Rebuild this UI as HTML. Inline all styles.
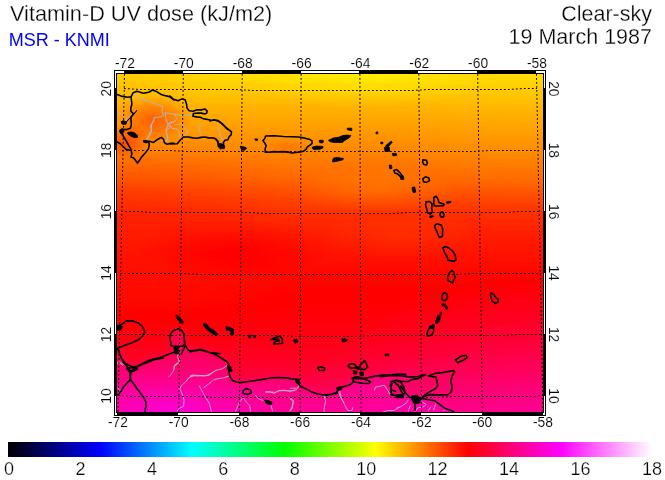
<!DOCTYPE html>
<html><head><meta charset="utf-8"><title>Vitamin-D UV dose</title>
<style>html,body{margin:0;padding:0;background:#fff;}body{width:665px;height:480px;overflow:hidden;font-family:"Liberation Sans",sans-serif;}svg{display:block;}</style>
</head><body>
<svg width="665" height="480" viewBox="0 0 665 480">
<rect width="665" height="480" fill="#fff"/>
<defs>
<linearGradient id="bg" x1="0" y1="74" x2="0" y2="412" gradientUnits="userSpaceOnUse">
<stop offset="0.0000" stop-color="#111111"/>
<stop offset="0.0237" stop-color="#161616"/>
<stop offset="0.0473" stop-color="#1b1b1b"/>
<stop offset="0.1065" stop-color="#282828"/>
<stop offset="0.1657" stop-color="#323232"/>
<stop offset="0.2249" stop-color="#3c3c3c"/>
<stop offset="0.3136" stop-color="#4c4c4c"/>
<stop offset="0.3728" stop-color="#5d5d5d"/>
<stop offset="0.4112" stop-color="#676767"/>
<stop offset="0.4615" stop-color="#6f6f6f"/>
<stop offset="0.5178" stop-color="#757575"/>
<stop offset="0.5947" stop-color="#7c7c7c"/>
<stop offset="0.6538" stop-color="#808080"/>
<stop offset="0.7308" stop-color="#858585"/>
<stop offset="0.7870" stop-color="#8a8a8a"/>
<stop offset="0.8373" stop-color="#919191"/>
<stop offset="0.8905" stop-color="#9c9c9c"/>
<stop offset="0.9408" stop-color="#aaaaaa"/>
<stop offset="1.0000" stop-color="#b5b5b5"/>
</linearGradient>
<radialGradient id="rw"><stop offset="0" stop-color="#fff" stop-opacity="1"/><stop offset="0.5" stop-color="#fff" stop-opacity="0.55"/><stop offset="1" stop-color="#fff" stop-opacity="0"/></radialGradient>
<radialGradient id="rk"><stop offset="0" stop-color="#000" stop-opacity="1"/><stop offset="0.5" stop-color="#000" stop-opacity="0.55"/><stop offset="1" stop-color="#000" stop-opacity="0"/></radialGradient>
<filter id="blur" x="-0.1" y="-0.3" width="1.2" height="1.6"><feGaussianBlur stdDeviation="3.5"/></filter>
<filter id="cmap" color-interpolation-filters="sRGB" x="0" y="0" width="1" height="1" filterUnits="objectBoundingBox">
<feComponentTransfer><feFuncR type="table" tableValues="1 1 1"/><feFuncG type="table" tableValues="1 0 0"/><feFuncB type="table" tableValues="0 0 1"/></feComponentTransfer>
</filter>
<linearGradient id="cb" x1="8" y1="0" x2="652" y2="0" gradientUnits="userSpaceOnUse">
<stop offset="0" stop-color="#000000"/>
<stop offset="0.142857" stop-color="#0000ff"/>
<stop offset="0.285714" stop-color="#00ffff"/>
<stop offset="0.428571" stop-color="#00ff00"/>
<stop offset="0.571429" stop-color="#ffff00"/>
<stop offset="0.714286" stop-color="#ff0000"/>
<stop offset="0.857143" stop-color="#ff00ff"/>
<stop offset="1" stop-color="#ffffff"/>
</linearGradient>
<clipPath id="mapclip"><rect x="117" y="74" width="426" height="338"/></clipPath>
</defs>
<g filter="url(#cmap)"><g clip-path="url(#mapclip)">
<rect x="117" y="74" width="427" height="338" fill="url(#bg)"/>
<ellipse cx="117" cy="76" rx="110" ry="40" fill="url(#rw)" opacity="0.030"/>
<ellipse cx="153" cy="119" rx="40" ry="24" fill="url(#rw)" opacity="0.170"/>
<ellipse cx="126" cy="141" rx="24" ry="17" fill="url(#rw)" opacity="0.170"/>
<ellipse cx="172" cy="420" rx="120" ry="55" fill="url(#rw)" opacity="0.450"/>
<ellipse cx="170" cy="412" rx="50" ry="26" fill="url(#rw)" opacity="0.350"/>
<ellipse cx="288" cy="147" rx="24" ry="8" fill="url(#rw)" opacity="0.050"/>
<ellipse cx="365" cy="72" rx="130" ry="36" fill="url(#rk)" opacity="0.500"/>
<ellipse cx="378" cy="190" rx="85" ry="24" fill="url(#rk)" opacity="0.140"/>
<ellipse cx="235" cy="248" rx="100" ry="32" fill="url(#rw)" opacity="0.080"/>
<ellipse cx="117" cy="190" rx="200" ry="50" fill="url(#rw)" opacity="0.070"/>
<ellipse cx="400" cy="236" rx="85" ry="24" fill="url(#rk)" opacity="0.070"/>
<ellipse cx="560" cy="420" rx="260" ry="150" fill="url(#rw)" opacity="0.300"/>
<ellipse cx="150" cy="300" rx="170" ry="50" fill="url(#rk)" opacity="0.050"/>
<ellipse cx="544" cy="120" rx="150" ry="90" fill="url(#rk)" opacity="0.080"/>
<polygon points="100,345 117,346 119.4,353 121.3,358 125,363 128.5,365 133.3,367 138,366 144,363 150,359.7 156,358.5 162,356.7 168,354.3 173,352.5 176,350 172,346 170,341 171,335.6 173,331 178,329 182,331 184,336 184.5,343 186.6,347.6 188.4,350.3 195.7,350.3 200.3,349.4 205,351 211.8,353 217.8,356 222.6,359 227.5,362 229.3,366.3 228.7,371 230,376.5 232.3,380.2 236,382 240.8,382.6 246.8,381.7 254,380.8 261.3,379.5 266,378.7 272,377.7 279.3,377.5 286.6,378 291.4,378.7 295.6,379.3 297.5,383 301,386.5 306,389 311,391.4 317,393.8 324,395 331,394.4 337,392.5 338,388.3 344,386.5 350,384.7 353.8,381.6 352,378 356,376.8 362,377.7 367,378 372,376.8 378,375.6 384,375 391,374.8 398.5,374 405.8,374.4 414,375.9 419,376.3 426,374.1 419,377.7 413,378.3 411.7,380 408,381.3 403,381 396,380.1 391,382 390.5,388 391.3,393.7 396,396 401,396.2 405,392.2 409.3,397 413,398.3 421.4,397 427.4,399.5 434.7,400.7 439.5,404.3 444.3,408 450.4,410.3 453.4,411.5 456,420 100,420" fill="#fff" opacity="0.30" filter="url(#blur)"/>
</g></g>
<g clip-path="url(#mapclip)" id="geo">
<path d="M133.7 94.5 L137.8 96.8 L141.5 99.1 L147.9 101.0 L154.3 103.2 L159.8 105.5 L162.6 106.0 L162.1 111.5 L163.5 115.2 L160.7 117.0 L154.3 117.4 L153.4 120.7 L151.6 124.3 L150.7 127.9 M151.6 124.6 L150.8 130.6 L148.6 135.9 L146.3 140.4 M117.2 112.9 L122.2 114.2 L125.9 117.4 L126.8 119.7 M165.1 112.6 L174.2 114.1 L181.7 115.6 L192.2 114.8 M165.1 112.6 L165.9 118.6 L168.1 124.6 L165.9 130.6 L167.4 136.6 L166.6 141.9 M174.2 114.1 L177.2 118.6 L173.4 122.3 L168.9 123.1 L171.9 128.4 L177.2 129.1 L179.4 133.6 L180.2 137.4 M175.7 124.6 L181.7 123.8 L184.7 128.4 L187.7 132.9 L184.7 135.9 L182.4 136.6 M199.7 123.8 L198.2 127.6 L200.5 133.6 L202.0 137.4 M218.2 127.0 L220.1 133.4 L221.9 139.4 L223.7 139.6 M154.3 120.0 L150.7 125.5 L151.6 131.0 L149.7 135.6 L146.5 139.2 L147.9 142.0 M174.0 121.8 L169.9 122.3 L168.1 125.5 L169.9 127.8 L166.2 130.1 L167.1 135.6 L168.1 139.2 L165.3 142.0 M396.0 408.5 L400.8 406.7 L406.9 402.5 L408.1 399.5 M408.1 411.5 L409.3 407.9 L411.1 404.9 M415.3 411.5 L417.8 407.9 L423.8 406.7 L426.2 404.3 L422.0 401.9 M428.0 410.9 L431.0 406.7 M433.5 410.3 L435.9 403.7 M443.7 410.9 L444.9 409.7 M179.3 350.7 L177.4 356.7 L179.3 361.5 L174.4 365.2 L173.8 369.9 M117.0 364.0 L120.0 361.5 L123.7 365.2 M117.0 362.2 L120.0 363.4 L123.1 365.3 M117.0 387.6 L121.3 391.2 M178.7 358.0 L179.3 362.8 L174.4 365.9 L173.8 370.1 L170.8 374.9 L168.4 377.3 M193.8 375.5 L188.9 377.9 L185.3 382.2 L181.1 385.8 L179.9 389.4 L182.3 394.3 L184.1 400.3 L183.5 406.3 L179.3 408.2 L176.8 411.2 M190.0 375.9 L203.3 375.9 L209.3 375.3 L215.4 370.5 L222.6 368.7 L228.7 364.4 M229.9 375.9 L223.8 377.7 L214.2 379.5 L208.1 384.4 L203.3 387.9 M186.8 379.9 L191.8 375.0 L205.9 375.8 L215.8 370.8 M199.2 385.7 L205.0 396.5 L209.2 403.1 L211.6 412.2 M235.6 411.4 L238.9 403.1 L243.1 397.3 L246.4 402.3 L249.7 405.6 L250.5 411.4 M254.7 394.8 L258.8 398.9 L263.8 400.6 L270.4 403.9 L272.8 411.4 M265.4 391.5 L275.3 392.3 L278.6 390.7 L295.2 390.7 M289.4 397.3 L293.5 400.6 L291.9 407.2 L289.4 411.4 M265.4 392.6 L269.7 392.0 L274.5 393.4 L278.1 390.8 L284.2 390.2 L290.2 391.4 L296.3 389.5 L299.9 385.3 M322.8 393.8 L325.9 397.9 M290.0 388.2 L296.6 388.2 L299.9 384.9 M290.0 398.9 L293.3 401.4 L292.5 408.0 L290.0 411.4 M323.9 394.8 L325.6 401.4 L323.9 409.7 L324.7 413.0 M339.6 390.7 L341.3 398.1 L344.6 404.7 L347.9 410.5 L352.0 410.5 L352.9 407.2 M374.4 390.7 L375.2 387.4 L384.3 385.2 L387.6 389.9 L390.1 394.8 M382.6 412.2 L387.6 410.5 L394.2 410.5 L399.2 407.2 M338.7 392.5 L341.1 398.0 L344.1 402.8" fill="none" stroke="#b3b8c6" stroke-width="0.9" stroke-linejoin="round"/>
<path d="M136.0 110.6 L134.2 112.6 L131.0 116.1 L127.4 119.4 L125.7 121.4" fill="none" stroke="#d8d8dc" stroke-width="1.1"/>
<path d="M136.9 110.4 L134.9 112.6 L131.9 116.1 L128.2 119.6 L126.4 121.8" fill="none" stroke="#000" stroke-width="1.1"/>
<path d="M115.8 94.3 L117.2 94.5 L122.2 96.4 L127.7 97.3 L131.0 96.8 L133.2 92.7 L136.9 91.3 L143.3 93.2 L148.8 92.2 L152.5 90.0 L157.1 91.8 L161.2 94.5 L166.2 95.9 L169.9 96.8 L174.0 100.0 M170.0 96.1 L173.7 99.3 L178.2 100.7 L181.9 98.9 L185.1 99.8 L186.5 103.9 L187.0 108.0 L189.2 110.8 L192.9 111.2 L196.6 109.9 L201.2 109.9 L204.8 109.0 L207.1 110.8 L206.7 113.1 L204.8 114.0 L201.2 113.1 L197.5 113.1 L193.4 113.5 L192.9 116.3 L196.6 116.9 L200.2 117.2 L203.0 118.6 L207.6 119.5 L211.2 120.2 L214.9 119.9 L219.5 121.8 L223.1 125.0 L226.8 128.7 L230.0 130.5 M210.0 121.0 L213.7 119.7 L218.2 120.6 L221.9 123.3 L225.6 127.0 L229.2 130.2 L231.5 132.0 L231.1 134.8 L229.2 136.6 L227.9 139.8 L225.1 140.3 L223.3 142.6 L223.7 145.3 L221.0 147.2 L218.7 145.8 L218.2 143.5 L216.9 140.3 L214.1 138.0 L210.0 137.8 M210.3 137.9 L208.5 137.9 L204.8 137.0 L201.2 137.4 L196.6 138.3 L192.9 137.9 L188.3 137.0 L183.3 137.0 L180.1 140.2 L177.3 143.8 L170.0 144.0 M210.3 137.9 L212.2 137.9 L215.8 138.8 L218.1 141.5 L218.6 145.2 M174.0 143.4 L169.9 143.4 L167.1 144.3 L164.4 142.5 L163.5 139.2 L161.2 137.4 L157.1 139.7 L153.4 142.5 L149.3 141.3 L145.6 141.5 L148.8 142.5 L149.3 144.7 L148.4 148.9 L145.2 153.0 L141.5 157.1 L139.2 160.8 L137.4 163.1 L136.9 162.2 L133.7 158.0 L131.0 157.1 L131.9 153.9 L131.0 149.3 L129.1 146.1 L126.8 142.0 L123.2 136.0 L120.0 131.5 L121.8 129.2 L126.8 129.6 L130.5 128.2 L131.4 124.1 L131.0 120.0 M115.8 141.8 L117.2 142.0 L120.4 143.8 L123.2 146.6 L125.9 149.3 L129.6 150.2 M131.0 96.8 L131.4 100.0 L131.9 104.2 L130.8 108.3 L131.0 111.5 L133.7 113.8 L131.0 117.0 L131.0 120.7 M131.0 120.0 L131.4 124.1 M265.6 136.0 L274.3 135.8 L283.5 136.5 L292.7 136.8 L298.2 137.0 L303.6 137.9 L309.1 139.2 L311.9 140.6 L312.1 143.4 L310.1 145.2 L307.3 147.0 L305.9 149.3 L303.6 151.2 L299.1 152.1 L295.4 152.5 L292.7 153.0 L288.1 152.1 L283.5 151.6 L278.9 151.9 L274.3 151.6 L269.7 152.1 L265.2 152.3 L265.2 148.4 L266.1 145.7 L264.7 142.9 L262.9 140.6 L264.7 138.8 Z M393.8 170.4 L396.8 169.6 L400.1 172.9 L402.3 175.9 L400.8 176.8 L397.8 174.1 L394.8 172.9 Z M422.9 159.8 L426.4 160.3 L427.4 162.9 L426.4 165.1 L423.8 164.4 L422.6 162.1 Z M422.9 178.6 L425.6 176.8 L428.9 177.9 L429.4 180.9 L426.4 182.4 L423.4 181.7 Z M426.0 201.8 L429.6 201.5 L432.0 203.6 L431.7 209.0 L432.4 212.0 L430.2 214.1 L427.6 212.9 L426.6 208.4 L425.6 205.4 Z M433.8 197.5 L436.3 196.3 L438.1 199.3 L438.9 202.4 L444.1 204.2 L443.5 205.6 L438.7 206.0 L434.4 206.0 L433.8 203.0 Z M440.5 212.4 L442.5 211.7 L444.2 214.4 L443.3 216.9 L441.1 217.2 L439.9 215.0 Z M434.5 225.6 L436.9 223.8 L441.1 225.0 L442.7 229.3 L442.4 236.5 L439.3 237.5 L436.9 231.7 L435.1 228.0 Z M442.7 248.0 L445.4 246.5 L449.0 248.0 L452.4 251.0 L455.0 254.6 L456.0 260.1 L453.8 261.3 L447.8 260.1 L447.2 257.0 L444.8 252.8 Z M451.8 270.5 L453.8 272.1 L454.9 277.5 L452.5 282.9 L448.4 280.9 L447.5 277.5 L449.5 272.8 Z M444.4 292.7 L447.1 294.0 L447.5 297.8 L445.0 300.8 L442.3 299.9 L441.7 296.5 L443.0 293.8 Z M491.0 293.1 L493.7 294.4 L495.8 297.8 L498.5 299.5 L498.2 301.9 L495.1 303.5 L492.4 301.2 L491.0 297.8 L490.4 295.1 Z M429.1 328.2 L433.2 327.5 L433.8 330.9 L431.8 334.9 L427.7 336.3 L427.1 332.9 Z M455.5 360.0 L460.9 356.3 L466.3 355.2 L467.0 357.9 L462.2 360.7 L457.5 362.7 Z M428.0 375.9 L434.7 373.5 L441.9 372.6 L449.2 371.4 L453.4 370.5 L454.6 372.3 L451.8 376.5 L451.0 381.3 L452.2 387.4 L451.0 392.2 L448.0 394.6 L441.9 394.9 L435.9 394.9 L431.0 394.6 L426.2 395.8 L422.0 397.6 L426.2 394.0 L431.0 391.0 L434.7 389.2 L437.7 386.2 L437.1 381.3 L435.9 377.1 Z M380.0 376.6 L389.9 375.8 L399.9 375.8 L409.8 376.9 L418.0 376.6 L425.5 374.6 L418.0 378.6 L411.4 379.6 L408.1 381.6 L401.5 381.2 L396.5 380.3 L391.6 381.6 L390.3 385.7 L391.6 389.9 L395.7 391.5 M394.1 382.4 L398.2 384.9 L400.7 389.9 L403.2 394.8 L396.5 395.6 L390.8 394.8 M400.8 386.2 L405.1 392.2 L409.3 397.0 L412.9 398.3 L415.9 399.5 M414.7 398.3 L414.7 404.3 L415.3 410.3 M420.2 398.3 L427.4 399.5 L434.7 400.7 L439.5 404.3 L444.3 407.9 L450.4 410.3 L453.4 411.5 M121.3 324.7 L126.1 321.1 L132.1 320.7 L138.2 322.9 L142.4 326.5 L144.8 331.9 L142.4 336.2 L138.2 339.8 L133.3 342.2 L128.5 344.0 L123.7 345.8 L119.4 347.6 L117.0 349.5 M117.6 348.3 L119.4 353.1 L121.3 357.9 L124.9 362.8 L128.5 365.2 L133.3 367.0 M133.3 367.0 L138.2 365.8 L144.2 362.8 L150.3 359.7 L156.3 358.5 L162.3 356.7 L168.4 354.3 L173.2 352.5 L176.8 350.7 M178.3 328.8 L182.0 330.6 L184.0 334.7 L184.3 339.3 L184.7 343.9 L182.5 346.2 L178.3 346.2 L173.7 346.2 L171.0 345.7 L170.5 341.2 L169.6 337.5 L171.0 332.9 L173.7 330.6 Z M184.7 346.7 L182.9 350.3 L181.5 353.9 M184.7 343.9 L186.6 347.6 L188.4 350.3 L191.2 350.8 L195.7 350.3 L200.3 349.4 L204.9 350.8 L209.5 352.6 L215.0 353.1 L220.0 353.8 M270.7 339.6 L274.3 337.8 L279.2 336.3 L282.2 338.4 L282.6 343.2 L278.0 343.8 L273.7 344.0 L274.9 341.4 L279.2 340.8 L278.0 339.0 Z M317.8 367.6 L321.6 366.8 L325.0 368.4 L324.0 370.5 L319.2 370.5 Z M190.0 351.8 L194.8 350.8 L200.3 349.9 L205.7 351.5 L211.8 353.0 L217.8 356.0 L222.6 359.0 L227.5 362.0 L229.3 366.3 L228.7 371.1 L229.9 376.5 L232.3 380.2 L235.9 382.0 L240.8 382.6 L246.8 381.7 L254.0 380.8 L261.3 379.5 L269.2 378.3 M260.0 379.9 L266.0 378.7 L272.1 377.7 L279.3 377.5 L286.6 378.1 L291.4 378.7 L295.6 379.3 L297.5 382.9 L301.1 386.5 L305.9 388.9 L310.8 391.4 L316.8 393.8 L324.0 395.0 L331.3 394.4 L337.3 393.2 M326.0 395.5 L330.8 394.3 L336.9 392.5 L338.1 388.3 L344.1 386.5 L350.2 384.7 L353.8 381.6 L352.0 378.0 L356.2 376.8 L362.3 377.7 L367.1 378.0 L371.9 376.8 L378.0 375.6 L384.0 375.0 L391.3 374.8 L398.5 374.0 L405.8 374.4 M353.2 378.6 L362.3 378.4 L367.7 380.4 L370.7 382.0 L368.9 383.5 L362.3 383.2 L356.2 382.3 L353.2 381.0 Z M347.8 365.9 L350.2 363.9 L354.4 363.9 L356.2 366.5 L358.6 367.8 L361.0 364.1 L364.7 360.7 L366.5 364.1 L367.7 367.1 L364.7 369.6 L360.4 369.0 L357.7 369.0 L355.0 367.8 L350.8 368.4 Z M391.3 381.6 L396.1 380.4 L400.9 382.3 L403.9 387.1 L405.2 393.1 L400.9 396.2 L394.9 395.5 L391.3 393.7 L390.7 388.3 L391.9 383.5 Z M394.9 382.3 L398.5 385.9 L400.9 390.7 L403.3 394.3 M243.1 390.7 L246.4 388.5 L250.5 389.9 L251.3 392.8 L248.0 394.5 L243.1 393.5 Z M121.3 358.0 L123.7 362.8 L127.3 366.5 L129.7 370.1 L129.7 372.5 L130.3 377.3 L129.7 380.4 L126.1 384.0 L123.1 387.6 L120.6 391.8 L118.8 394.3 L117.0 394.9 M163.5 358.0 L153.9 359.8 L147.8 362.2 L141.8 364.6 L137.0 367.1 L133.9 369.5 L130.9 371.3 L130.3 377.3 L130.9 380.4 L133.9 384.0 L137.0 388.8 L140.0 392.4 L143.0 396.7 L145.7 401.5 L146.0 406.3 L144.8 411.8 M126.7 368.3 L133.3 367.7 L137.6 368.9 L133.3 371.3 L129.7 371.9 Z" fill="none" stroke="#000" stroke-width="1.6" stroke-linejoin="round" stroke-linecap="round"/>
<path d="M217.8 143.9 L221.0 143.5 L224.7 145.8 L224.5 148.5 L220.1 148.8 L218.1 146.7 Z M143.3 140.6 L146.1 140.3 L148.4 141.5 L147.0 142.9 L143.8 142.5 Z M121.3 121.8 L123.2 120.9 L125.9 121.6 L126.4 123.2 L124.1 124.1 L121.8 123.7 Z M121.3 121.6 L123.6 120.7 L126.4 122.5 L125.9 124.3 L122.7 124.3 Z M127.7 132.4 L131.4 131.9 L134.6 132.8 L137.6 135.6 L137.4 137.4 L133.7 137.6 L130.5 136.0 L127.7 133.7 Z M119.7 129.9 L122.7 128.7 L124.1 131.0 L122.7 133.7 L120.4 132.8 Z M240.2 146.2 L243.4 146.7 L246.7 148.1 L244.4 150.4 L241.6 149.9 Z M254.9 138.9 L257.6 138.9 L257.6 140.3 L255.8 140.7 L254.9 140.0 Z M312.4 147.0 L316.1 146.1 L323.0 146.4 L323.0 147.9 L319.7 149.3 L313.8 149.5 L312.2 148.2 Z M319.3 140.3 L323.0 140.2 L323.6 142.0 L322.0 143.1 L319.6 142.5 Z M328.5 140.3 L333.5 137.9 L338.1 137.4 L342.7 135.6 L347.2 135.1 L350.9 135.6 L349.1 137.9 L344.5 140.6 L342.7 142.5 L333.5 142.5 L329.8 141.5 Z M347.2 128.2 L351.8 128.2 L351.8 130.5 L349.1 130.3 L347.2 129.6 Z M332.6 160.3 L333.5 158.0 L337.2 157.4 L343.6 158.5 L342.7 159.9 L337.2 161.2 L332.6 162.0 Z M376.0 132.0 L377.8 132.0 L377.8 133.8 L376.0 133.8 Z M380.8 142.1 L382.8 142.1 L382.8 143.8 L380.8 143.8 Z M385.8 145.6 L391.1 141.1 L392.3 142.3 L387.7 147.4 L385.9 147.4 Z M384.3 147.4 L389.2 147.1 L389.8 151.3 L385.0 151.6 Z M392.3 153.4 L396.3 153.4 L396.8 155.5 L392.9 155.8 Z M389.2 165.1 L391.4 165.1 L392.0 168.4 L389.8 168.9 Z M400.1 175.9 L403.4 175.9 L403.8 179.4 L400.8 179.4 Z M412.1 187.3 L414.7 187.0 L415.7 192.1 L413.5 192.7 L412.3 190.3 Z M446.5 201.8 L450.8 201.3 L450.8 202.7 L446.9 203.4 Z M429.6 216.3 L432.9 215.3 L433.4 216.7 L430.2 217.9 Z M441.7 304.1 L444.6 303.2 L445.2 304.9 L442.3 305.9 Z M444.4 306.2 L446.4 305.4 L447.9 308.4 L446.3 309.5 Z M440.0 312.4 L441.7 312.4 L441.7 314.6 L440.0 314.6 Z M437.6 315.4 L440.3 315.7 L440.0 320.2 L437.6 323.5 L435.4 323.0 L436.5 318.8 Z M429.5 326.0 L434.2 325.2 L434.2 327.6 L429.7 328.4 Z M432.5 324.8 L434.5 324.8 L434.5 326.8 L432.5 326.8 Z M411.7 395.8 L417.1 395.2 L420.8 398.3 L419.6 403.1 L414.1 403.7 L411.7 399.5 Z M396.0 394.6 L403.3 394.4 L403.5 397.8 L396.0 397.8 Z M117.0 325.5 L120.6 324.7 L122.7 327.1 L120.6 330.1 L117.0 330.1 Z M173.7 346.5 L178.3 346.5 L178.8 353.9 L174.7 353.9 Z M176.0 315.0 L177.9 315.5 L183.4 321.5 L182.9 323.3 L180.9 322.8 L176.5 318.2 Z M203.5 323.6 L206.3 323.7 L209.5 327.9 L214.1 330.2 L217.7 334.0 L216.8 335.5 L213.1 334.0 L209.0 331.5 L205.4 327.9 L203.3 325.1 Z M226.0 326.6 L230.8 327.8 L233.5 329.3 L233.5 334.4 L230.8 334.9 L230.8 331.1 L226.0 329.9 Z M248.4 335.3 L250.8 335.3 L250.8 337.8 L248.4 337.8 Z M253.8 335.6 L255.6 335.6 L255.6 337.8 L253.8 337.8 Z M293.1 340.2 L296.7 339.0 L297.9 342.0 L294.9 343.2 Z M227.5 365.0 L230.5 366.3 L232.3 371.1 L229.9 371.7 L227.7 369.3 Z M295.0 378.7 L299.3 379.3 L299.3 383.5 L296.3 382.9 Z M336.3 387.7 L341.1 386.5 L341.7 389.5 L337.5 390.7 Z M353.2 370.8 L356.8 371.1 L356.8 374.0 L353.6 374.0 Z M359.8 372.0 L363.5 372.0 L363.5 375.6 L360.1 375.6 Z M385.2 353.9 L388.8 353.9 L388.8 355.7 L385.2 355.7 Z M263.8 400.1 L268.7 400.6 L272.0 402.3 L271.2 404.7 L267.1 403.9 Z M341.8 339.0 L345.0 338.7 L345.5 341.5 L342.5 342.0 Z M346.3 339.5 L347.8 339.5 L347.8 341.0 L346.3 341.0 Z" fill="#000" stroke="#000" stroke-width="0.8" stroke-linejoin="round"/>
</g>
<g stroke="#000" stroke-width="1" stroke-dasharray="1.8 2.2" fill="none">
<line x1="124.5" y1="74" x2="118.0" y2="412"/>
<line x1="183.3" y1="74" x2="178.7" y2="412"/>
<line x1="242.2" y1="74" x2="239.4" y2="412"/>
<line x1="301.1" y1="74" x2="300.1" y2="412"/>
<line x1="359.9" y1="74" x2="360.9" y2="412"/>
<line x1="418.8" y1="74" x2="421.6" y2="412"/>
<line x1="477.7" y1="74" x2="482.3" y2="412"/>
<line x1="536.5" y1="74" x2="543.0" y2="412"/>
<polyline points="118 395.5 134 396.5 150 396.5 166 396.5 182 396.5 198 396.5 214 397.5 230 397.5 246 397.5 262 397.5 278 397.5 294 397.5 310 397.5 326 397.5 342 397.5 358 397.5 374 397.5 390 397.5 406 397.5 422 397.5 438 397.5 454 396.5 470 396.5 486 396.5 502 396.5 518 396.5 534 396.5 543 395.5"/>
<polyline points="119 334.5 135 334.5 151 334.5 167 335.5 183 335.5 199 335.5 215 335.5 231 335.5 247 335.5 263 335.5 279 335.5 295 336.5 311 336.5 327 336.5 343 336.5 359 336.5 375 335.5 391 335.5 407 335.5 423 335.5 439 335.5 455 335.5 471 335.5 487 335.5 503 335.5 519 334.5 535 334.5 542 334.5"/>
<polyline points="120 273.5 136 273.5 152 273.5 168 273.5 184 273.5 200 274.5 216 274.5 232 274.5 248 274.5 264 274.5 280 274.5 296 274.5 312 274.5 328 274.5 344 274.5 360 274.5 376 274.5 392 274.5 408 274.5 424 274.5 440 274.5 456 274.5 472 273.5 488 273.5 504 273.5 520 273.5 536 273.5 541 273.5"/>
<polyline points="121 211.5 137 211.5 153 212.5 169 212.5 185 212.5 201 212.5 217 212.5 233 212.5 249 212.5 265 213.5 281 213.5 297 213.5 313 213.5 329 213.5 345 213.5 361 213.5 377 213.5 393 213.5 409 212.5 425 212.5 441 212.5 457 212.5 473 212.5 489 212.5 505 212.5 521 211.5 537 211.5 540 211.5"/>
<polyline points="122 150.5 138 150.5 154 150.5 170 150.5 186 151.5 202 151.5 218 151.5 234 151.5 250 151.5 266 151.5 282 151.5 298 151.5 314 151.5 330 151.5 346 151.5 362 151.5 378 151.5 394 151.5 410 151.5 426 151.5 442 151.5 458 151.5 474 151.5 490 150.5 506 150.5 522 150.5 538 150.5 539 150.5"/>
<polyline points="124 88.5 140 89.5 156 89.5 172 89.5 188 89.5 204 89.5 220 89.5 236 89.5 252 90.5 268 90.5 284 90.5 300 90.5 316 90.5 332 90.5 348 90.5 364 90.5 380 90.5 396 90.5 412 90.5 428 89.5 444 89.5 460 89.5 476 89.5 492 89.5 508 89.5 524 88.5 537 88.5"/>
</g>
<g shape-rendering="crispEdges">
<rect x="114" y="70" width="432" height="4" fill="#000"/>
<rect x="114" y="412" width="432" height="4" fill="#000"/>
<rect x="114" y="70" width="3" height="346" fill="#000"/>
<rect x="543" y="70" width="3" height="346" fill="#000"/>
<rect x="115" y="71" width="9" height="2" fill="#fff"/>
<rect x="183" y="71" width="59" height="2" fill="#fff"/>
<rect x="301" y="71" width="58" height="2" fill="#fff"/>
<rect x="418" y="71" width="59" height="2" fill="#fff"/>
<rect x="536" y="71" width="9" height="2" fill="#fff"/>
<rect x="115" y="413" width="2" height="2" fill="#fff"/>
<rect x="178" y="413" width="61" height="2" fill="#fff"/>
<rect x="300" y="413" width="60" height="2" fill="#fff"/>
<rect x="421" y="413" width="61" height="2" fill="#fff"/>
<rect x="543" y="413" width="2" height="2" fill="#fff"/>
<rect x="115" y="71" width="1" height="17" fill="#fff"/>
<rect x="115" y="150" width="1" height="61" fill="#fff"/>
<rect x="115" y="273" width="1" height="61" fill="#fff"/>
<rect x="115" y="396" width="1" height="19" fill="#fff"/>
<rect x="544" y="71" width="1" height="17" fill="#fff"/>
<rect x="544" y="150" width="1" height="61" fill="#fff"/>
<rect x="544" y="273" width="1" height="61" fill="#fff"/>
<rect x="544" y="396" width="1" height="19" fill="#fff"/>
</g>
<g font-family="'Liberation Sans', sans-serif" font-size="13.8" fill="#000" text-anchor="middle" stroke="#fff" stroke-width="0.12" opacity="0.999">
<text x="125.0" y="68">-72</text>
<text x="118.0" y="427">-72</text>
<text x="183.8" y="68">-70</text>
<text x="178.7" y="427">-70</text>
<text x="242.7" y="68">-68</text>
<text x="239.4" y="427">-68</text>
<text x="301.6" y="68">-66</text>
<text x="300.1" y="427">-66</text>
<text x="360.4" y="68">-64</text>
<text x="360.9" y="427">-64</text>
<text x="419.3" y="68">-62</text>
<text x="421.6" y="427">-62</text>
<text x="478.1" y="68">-60</text>
<text x="482.3" y="427">-60</text>
<text x="537.0" y="68">-58</text>
<text x="543.0" y="427">-58</text>
<text transform="translate(111,396.0) rotate(-90)">10</text>
<text transform="translate(549,396.0) rotate(90)">10</text>
<text transform="translate(111,334.6) rotate(-90)">12</text>
<text transform="translate(549,334.6) rotate(90)">12</text>
<text transform="translate(111,273.1) rotate(-90)">14</text>
<text transform="translate(549,273.1) rotate(90)">14</text>
<text transform="translate(111,211.7) rotate(-90)">16</text>
<text transform="translate(549,211.7) rotate(90)">16</text>
<text transform="translate(111,150.3) rotate(-90)">18</text>
<text transform="translate(549,150.3) rotate(90)">18</text>
<text transform="translate(111,88.8) rotate(-90)">20</text>
<text transform="translate(549,88.8) rotate(90)">20</text>
</g>
<rect x="8" y="442" width="644" height="15" fill="url(#cb)"/>
<g font-family="'Liberation Sans', sans-serif" font-size="18" fill="#000" text-anchor="middle" stroke="#fff" stroke-width="0.25" opacity="0.999">
<text x="9.0" y="475">0</text>
<text x="80.4" y="475">2</text>
<text x="151.9" y="475">4</text>
<text x="223.3" y="475">6</text>
<text x="294.8" y="475">8</text>
<text x="366.2" y="475">10</text>
<text x="437.6" y="475">12</text>
<text x="509.1" y="475">14</text>
<text x="580.5" y="475">16</text>
<text x="652.0" y="475">18</text>
</g>
<g font-family="'Liberation Sans', sans-serif" fill="#000" stroke="#fff" stroke-width="0.28" opacity="0.999">
<text x="10" y="21" font-size="21.7">Vitamin-D UV dose (kJ/m2)</text>
<text x="8.7" y="45.5" font-size="18" fill="#0000ff" stroke="none">MSR - KNMI</text>
<text x="652" y="21" font-size="21.5" text-anchor="end">Clear-sky</text>
<text x="652" y="43.5" font-size="21.5" text-anchor="end">19 March 1987</text>
</g>
</svg>
</body></html>
